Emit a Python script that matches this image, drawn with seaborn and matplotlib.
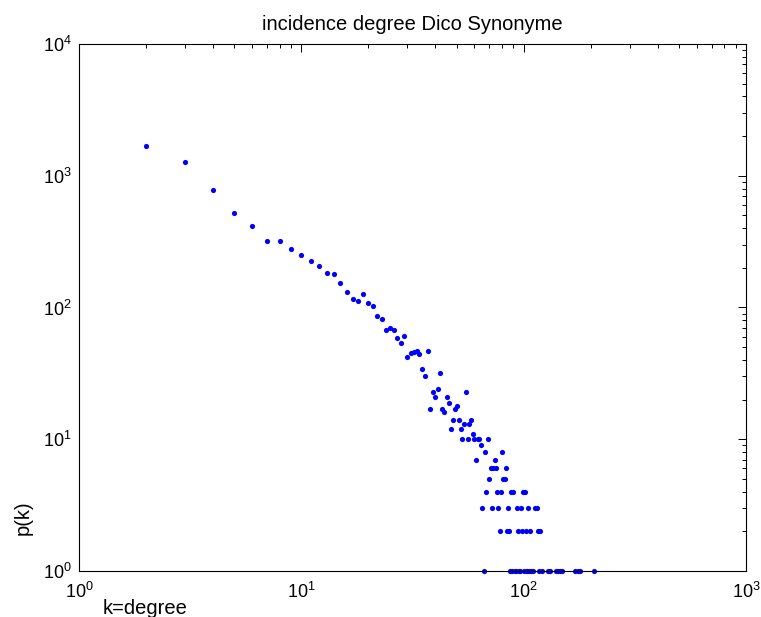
import matplotlib
matplotlib.use("Agg")
import matplotlib.pyplot as plt
import pandas as pd
import seaborn as sns

# degree k and the number of nodes p(k)
degree = [2, 3, 4, 5, 6, 7, 8, 9, 10, 11, 12, 13, 14, 15, 16, 17, 18, 19, 20,
          21, 22, 23, 24, 25, 26, 27, 28, 29, 30, 31, 32, 33, 34, 35, 36, 37,
          38, 39, 40, 41, 42, 43, 44, 45, 46, 47, 48, 49, 50, 51, 52, 53, 54,
          55, 56, 57, 58, 59, 60, 61, 62, 63, 64, 65, 66, 67, 68, 69, 70, 71,
          72, 73, 74, 75, 76, 77, 78, 79, 80, 81, 82, 83, 84, 85, 86, 87, 88,
          89, 90, 91, 92, 93, 94, 95, 96, 97, 98, 99, 100, 101, 102, 103, 104,
          105, 106, 107, 108, 110, 113, 115, 116, 117, 118, 121, 128, 132,
          140, 142, 145, 148, 171, 175, 180, 208]
count = [1668, 1277, 783, 525, 418, 320, 320, 280, 249, 224, 205, 183, 179,
         153, 131, 115, 112, 126, 108, 103, 86, 82, 67, 70, 67, 59, 54, 61,
         42, 45, 46, 47, 44, 34, 30, 47,
         17, 23, 21, 24, 32, 17, 16, 21, 19, 12, 14, 17, 18, 14, 12, 10, 13,
         23, 10, 13, 14, 11, 10, 7, 10, 10, 9, 3, 1, 8, 4, 10, 5, 6,
         3, 6, 7, 6, 4, 3, 2, 4, 8, 5, 5, 6, 2, 3, 2, 1, 4,
         1, 4, 1, 1, 3, 2, 1, 1, 3, 2, 4, 1, 4, 2, 1, 1,
         3, 1, 2, 1, 1, 3, 3, 2, 1, 2, 1, 1, 1,
         1, 1, 1, 1, 1, 1, 1, 1]

df = pd.DataFrame({"k": degree, "p": count})

sns.set_style("white")
plt.rcParams["font.family"] = ["Liberation Sans", "DejaVu Sans"]
plt.rcParams["mathtext.fontset"] = "custom"
plt.rcParams["mathtext.rm"] = "Liberation Sans"
plt.rcParams["mathtext.it"] = "Liberation Sans"
plt.rcParams["text.color"] = "black"
plt.rcParams["xtick.color"] = "black"
plt.rcParams["ytick.color"] = "black"

fig = plt.figure(figsize=(7.61, 6.17), dpi=100)
ax = fig.add_axes([0.1038, 0.0746, 0.8765, 0.8541])

sns.scatterplot(data=df, x="k", y="p", ax=ax, color="#0000ff", s=14,
                linewidth=0, clip_on=False, legend=False)

ax.set_xscale("log")
ax.set_yscale("log")
ax.set_xlim(1, 1000)
ax.set_ylim(1, 10000)
ax.set_xlabel("")
ax.set_ylabel("")
ax.set_title("incidence degree Dico Synonyme", fontsize=14.5, pad=10)

for s in ax.spines.values():
    s.set_color("black")
    s.set_linewidth(0.8)
ax.tick_params(which="both", direction="in", top=True, right=True,
               color="black", width=0.7)
ax.tick_params(which="major", length=6, labelsize=13)
ax.tick_params(axis="x", which="major", pad=8)
ax.tick_params(axis="y", which="major", pad=5)
ax.tick_params(which="minor", length=3)

fig.text(103 / 761, 1 - 614 / 617, "k=degree", fontsize=14.5,
         ha="left", va="baseline")
fig.text(23 / 761, 1 - 518 / 617, "p(k)", fontsize=14.5, rotation=90,
         ha="center", va="center")

fig.savefig("out.png", dpi=100)
